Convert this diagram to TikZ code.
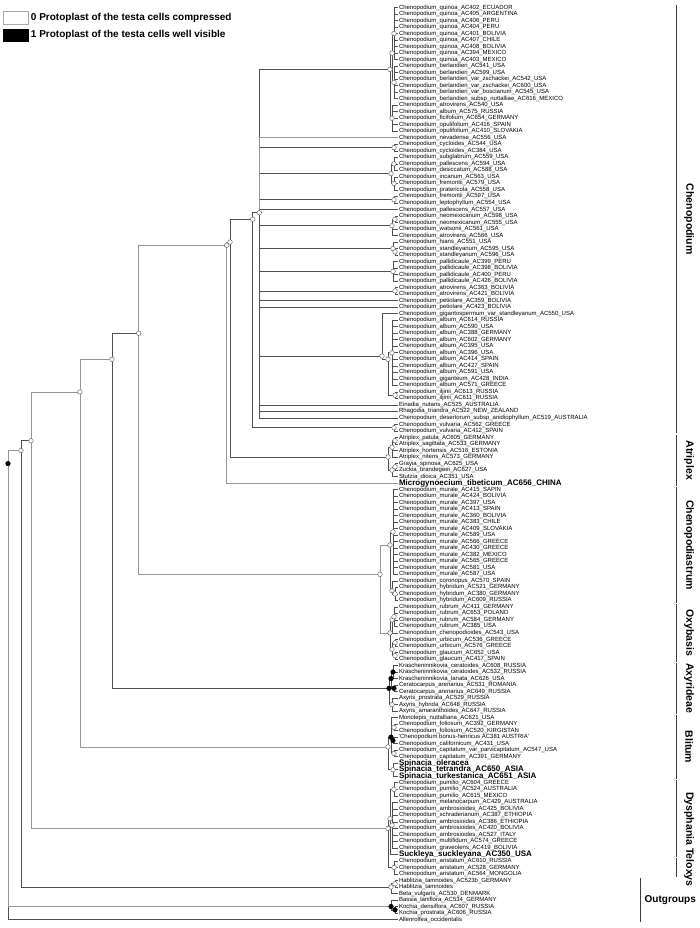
\documentclass[tikz,border=0pt]{standalone}
\usepackage{fontspec}
\setmainfont{Liberation Sans}
% y of a leaf range a..b (mean of the leaf rows)
\newcommand\ymid[2]{7.5+6.515*((#1)+(#2)-2)/2}
\catcode`\_=12
\tikzset{
  br/.style={draw={rgb,255:red,80;green,80;blue,80},line width=0.6},
  brg/.style={draw={rgb,255:red,150;green,150;blue,150},line width=0.6},
  nd/.style={circle,draw={rgb,255:red,110;green,110;blue,110},fill=white,inner sep=0pt,minimum size=4.6,line width=0.5},
  ndb/.style={nd,fill=black,draw=black},
  leaf/.style={anchor=west,inner sep=0.8,font=\fontsize{6}{6}\selectfont},
  big/.style={leaf,font=\fontsize{8}{8}\selectfont\bfseries},
  clade/.style={rotate=-90,font=\fontsize{10.5}{10.5}\selectfont\bfseries},
  brk/.style={draw={rgb,255:red,60;green,60;blue,60},line width=0.6},
  legtxt/.style={anchor=west,inner sep=0.75,font=\fontsize{10}{10}\selectfont\bfseries},
}
\begin{document}
\begin{tikzpicture}[x=1pt,y=1pt,yscale=-1]
\useasboundingbox (0,0) rectangle (699,928);

% Legend
\draw [draw={rgb,255:red,170;green,170;blue,170},fill=white] (3,11) rectangle (28,24);
\draw [fill=black] (3,29) rectangle (28,41);
\node (leg0) [legtxt] at (30,17.5) {0 Protoplast of the testa cells compressed};
\node (leg1) [legtxt] at (30,35) {1 Protoplast of the testa cells well visible};

% Leaves
\foreach \s/\t [count=\i] in {
leaf/Chenopodium_quinoa_AC402_ECUADOR, leaf/Chenopodium_quinoa_AC405_ARGENTINA, leaf/Chenopodium_quinoa_AC406_PERU,
leaf/Chenopodium_quinoa_AC404_PERU, leaf/Chenopodium_quinoa_AC401_BOLIVIA, leaf/Chenopodium_quinoa_AC407_CHILE,
leaf/Chenopodium_quinoa_AC408_BOLIVIA, leaf/Chenopodium_quinoa_AC394_MEXICO, leaf/Chenopodium_quinoa_AC403_MEXICO,
leaf/Chenopodium_berlandieri_AC541_USA, leaf/Chenopodium_berlandieri_AC599_USA,
leaf/Chenopodium_berlandieri_var_zschackei_AC542_USA, leaf/Chenopodium_berlandieri_var_zschackei_AC600_USA,
leaf/Chenopodium_berlandieri_var_boscianum_AC545_USA, leaf/Chenopodium_berlandieri_subsp_nuttalliae_AC616_MEXICO,
leaf/Chenopodium_atrovirens_AC540_USA, leaf/Chenopodium_album_AC575_RUSSIA, leaf/Chenopodium_ficifolium_AC654_GERMANY,
leaf/Chenopodium_opulifolium_AC416_SPAIN, leaf/Chenopodium_opulifolium_AC410_SLOVAKIA, leaf/Chenopodium_nevadense_AC556_USA,
leaf/Chenopodium_cycloides_AC544_USA, leaf/Chenopodium_cycloides_AC384_USA, leaf/Chenopodium_subglabrum_AC559_USA,
leaf/Chenopodium_pallescens_AC594_USA, leaf/Chenopodium_desiccatum_AC588_USA, leaf/Chenopodium_incanum_AC563_USA,
leaf/Chenopodium_fremontii_AC579_USA, leaf/Chenopodium_pratericola_AC558_USA, leaf/Chenopodium_fremontii_AC597_USA,
leaf/Chenopodium_leptophyllum_AC554_USA, leaf/Chenopodium_pallescens_AC557_USA, leaf/Chenopodium_neomexicanum_AC598_USA,
leaf/Chenopodium_neomexicanum_AC555_USA, leaf/Chenopodium_watsonii_AC561_USA, leaf/Chenopodium_atrovirens_AC566_USA,
leaf/Chenopodium_hians_AC551_USA, leaf/Chenopodium_standleyanum_AC595_USA, leaf/Chenopodium_standleyanum_AC596_USA,
leaf/Chenopodium_pallidicaule_AC399_PERU, leaf/Chenopodium_pallidicaule_AC398_BOLIVIA, leaf/Chenopodium_pallidicaule_AC400_PERU,
leaf/Chenopodium_pallidicaule_AC426_BOLIVIA, leaf/Chenopodium_atrovirens_AC363_BOLIVIA, leaf/Chenopodium_atrovirens_AC421_BOLIVIA,
leaf/Chenopodium_petiolare_AC359_BOLIVIA, leaf/Chenopodium_petiolare_AC423_BOLIVIA,
leaf/Chenopodium_gigantospermum_var_standleyanum_AC550_USA, leaf/Chenopodium_album_AC614_RUSSIA,
leaf/Chenopodium_album_AC590_USA, leaf/Chenopodium_album_AC388_GERMANY, leaf/Chenopodium_album_AC602_GERMANY,
leaf/Chenopodium_album_AC395_USA, leaf/Chenopodium_album_AC396_USA, leaf/Chenopodium_album_AC414_SPAIN,
leaf/Chenopodium_album_AC427_SPAIN, leaf/Chenopodium_album_AC591_USA, leaf/Chenopodium_giganteum_AC428_INDIA,
leaf/Chenopodium_album_AC571_GREECE, leaf/Chenopodium_iljinii_AC613_RUSSIA, leaf/Chenopodium_iljinii_AC611_RUSSIA,
leaf/Einadia_nutans_AC525_AUSTRALIA, leaf/Rhagodia_triandra_AC522_NEW_ZEALAND,
leaf/Chenopodium_desertorum_subsp_anidiophyllum_AC519_AUSTRALIA, leaf/Chenopodium_vulvaria_AC562_GREECE,
leaf/Chenopodium_vulvaria_AC412_SPAIN, leaf/Atriplex_patula_AC605_GERMANY, leaf/Atriplex_sagittata_AC533_GERMANY,
leaf/Atriplex_hortensis_AC516_ESTONIA, leaf/Atriplex_nitens_AC573_GERMANY, leaf/Grayia_spinosa_AC625_USA,
leaf/Zuckia_brandegeei_AC627_USA, leaf/Stutzia_dioica_AC351_USA, big/Microgynoecium_tibeticum_AC656_CHINA,
leaf/Chenopodium_murale_AC415_SAPIN, leaf/Chenopodium_murale_AC424_BOLIVIA, leaf/Chenopodium_murale_AC397_USA,
leaf/Chenopodium_murale_AC413_SPAIN, leaf/Chenopodium_murale_AC360_BOLIVIA, leaf/Chenopodium_murale_AC383_CHILE,
leaf/Chenopodium_murale_AC409_SLOVAKIA, leaf/Chenopodium_murale_AC589_USA, leaf/Chenopodium_murale_AC566_GREECE,
leaf/Chenopodium_murale_AC430_GREECE, leaf/Chenopodium_murale_AC382_MEXICO, leaf/Chenopodium_murale_AC565_GREECE,
leaf/Chenopodium_murale_AC581_USA, leaf/Chenopodium_murale_AC587_USA, leaf/Chenopodium_coronopus_AC570_SPAIN,
leaf/Chenopodium_hybridum_AC521_GERMANY, leaf/Chenopodium_hybridum_AC380_GERMANY, leaf/Chenopodium_hybridum_AC609_RUSSIA,
leaf/Chenopodium_rubrum_AC411_GERMANY, leaf/Chenopodium_rubrum_AC653_POLAND, leaf/Chenopodium_rubrum_AC584_GERMANY,
leaf/Chenopodium_rubrum_AC385_USA, leaf/Chenopodium_chenopodioides_AC543_USA, leaf/Chenopodium_urbicum_AC536_GREECE,
leaf/Chenopodium_urbicum_AC576_GREECE, leaf/Chenopodium_glaucum_AC652_USA, leaf/Chenopodium_glaucum_AC417_SPAIN,
leaf/Krascheninnikovia_ceratoides_AC608_RUSSIA, leaf/Krascheninnikovia_ceratoides_AC532_RUSSIA,
leaf/Krascheninnikovia_lanata_AC626_USA, leaf/Ceratocarpus_arenarius_AC531_ROMANIA, leaf/Ceratocarpus_arenarius_AC649_RUSSIA,
leaf/Axyris_prostrata_AC529_RUSSIA, leaf/Axyris_hybrida_AC648_RUSSIA, leaf/Axyris_amaranthoides_AC647_RUSSIA,
leaf/Monolepis_nuttalliana_AC621_USA, leaf/Chenopodium_foliosum_AC392_GERMANY, leaf/Chenopodium_foliosum_AC520_KIRGISTAN,
leaf/{\textquotesingle Chenopodium bonus-henricus AC381 AUSTRIA\textquotesingle}, leaf/Chenopodium_californicum_AC431_USA,
leaf/Chenopodium_capitatum_var_parvicapitatum_AC547_USA, leaf/Chenopodium_capitatum_AC391_GERMANY,
big/Spinacia_oleracea, big/Spinacia_tetrandra_AC650_ASIA, big/Spinacia_turkestanica_AC651_ASIA,
leaf/Chenopodium_pumilio_AC604_GREECE, leaf/Chenopodium_pumilio_AC524_AUSTRALIA, leaf/Chenopodium_pumilio_AC615_MEXICO,
leaf/Chenopodium_melanocarpum_AC429_AUSTRALIA, leaf/Chenopodium_ambrosioides_AC425_BOLIVIA,
leaf/Chenopodium_schraderianum_AC387_ETHIOPIA, leaf/Chenopodium_ambrosioides_AC386_ETHIOPIA,
leaf/Chenopodium_ambrosioides_AC420_BOLIVIA, leaf/Chenopodium_ambrosioides_AC527_ITALY,
leaf/Chenopodium_multifidum_AC574_GREECE, leaf/Chenopodium_graveolens_AC419_BOLIVIA, big/Suckleya_suckleyana_AC350_USA,
leaf/Chenopodium_aristatum_AC610_RUSSIA, leaf/Chenopodium_aristatum_AC528_GERMANY, leaf/Chenopodium_aristatum_AC564_MONGOLIA,
leaf/Hablitzia_tamnoides_AC523b_GERMANY, leaf/Hablitzia_tamnoides, leaf/Beta_vulgaris_AC530_DENMARK,
leaf/Bassia_laniflora_AC534_GERMANY, leaf/Kochia_densiflora_AC607_RUSSIA, leaf/Kochia_prostrata_AC606_RUSSIA,
leaf/Allenrolfea_occidentalis}
  \node (l\i) [\s] at (398,{7.5+6.515*(\i-1)}) {\t};

% Backbone nodes
\coordinate (root) at (8,{\ymid{1}{141}});
\coordinate (n21) at (21,{\ymid{1}{137}});
\coordinate (n31) at (31,{\ymid{1}{134}});
\coordinate (n80) at (80,{\ymid{1}{119}});
\coordinate (n112) at (112,{\ymid{1}{109}});
\coordinate (n139) at (138.7,{\ymid{1}{101}});
\coordinate (n227) at (226.7,{\ymid{1}{74}});
\coordinate (n230) at (230,{\ymid{1}{73}});
\coordinate (n253) at (252.7,{\ymid{1}{66}});
\coordinate (n259) at (259.3,{\ymid{1}{64}});
\coordinate (n380) at (380,{\ymid{75}{101}});

% Tip clades
\foreach \n/\x/\a/\b in {c1/390/1/20, c1a/392/1/15, cq/394/1/9, cb/394/10/15, c1b/392/16/20,
  cyc/394/22/23, c24/391/24/29, c24a/394/24/26, c24b/394/27/29, c30/394/30/31,
  c33/392/33/36, cneo/395/33/34, c37/393/37/39, cst/395/38/39, cpal/393/40/43, catr/395/44/45,
  c48/382/48/61, calb/388/49/61, calb1/392/49/59, cilj/395/60/61, cvul/394/65/66,
  catp/388/67/73, catx/392/67/70, catx1/395/67/68, cgzs/392/71/73, cgz/395/71/72,
  cchd/390/75/92, cmur/393/75/88, chyb0/392/89/92, chyb/395/90/92,
  coxy/390/93/101, crub0/392/93/97, crub/394/93/96, curb0/392/98/101, curb/395/98/99, cgla/395/100/101,
  caxy/389/102/109, ckc/391/102/106, ckra/393/102/104, ccer/394/105/106, caxs/392/107/109,
  cbli/388/110/119, cbl1/391/110/116, cfol/394/111/112, cbon/393/113/114, ccap/394/115/116, cspi/393/117/119,
  cdys/388/120/134, cdy1/390/120/131, cpum/394/120/122, camb/392/123/130, ctel/394/132/134,
  cbet/391/135/137, chab/395/135/136, ccam/391/138/140, ckoc/395/139/140}
  \coordinate (\n) at (\x,{\ymid{\a}{\b}});

% Branches
\foreach \p/\c in {n21/n31, n21/cbet, n112/n139, n112/caxy,
  n230/n253, n230/catp, n253/n259, n253/cvul, root/l141,
  n259/c1, n259/cyc, n259/c24, n259/c30, n259/l32, n259/c33, n259/c37, n259/cpal, n259/catr,
  n259/l46, n259/l47, n259/c48, n259/l62, n259/l63, n259/l64,
  c1/c1a, c1/c1b, c1a/cq, c1a/cb, c24/c24a, c24/c24b, c33/cneo, c33/l35, c33/l36, c37/l37, c37/cst,
  c48/l48, c48/calb, calb/calb1, calb/cilj, catp/catx, catp/cgzs, catx/catx1, catx/l69, catx/l70,
  cgzs/cgz, cgzs/l73, cchd/cmur, cchd/chyb0, chyb0/l89, chyb0/chyb, coxy/crub0, coxy/curb0,
  crub0/crub, crub0/l97, curb0/curb, curb0/cgla, caxy/ckc, caxy/caxs, ckc/ckra, ckc/ccer,
  cbli/cbl1, cbli/cspi, cbl1/l110, cbl1/cfol, cbl1/cbon, cbl1/ccap, cdys/cdy1, cdys/ctel,
  cdy1/cpum, cdy1/camb, cdy1/l131, cbet/chab, cbet/l137, ccam/l138, ccam/ckoc}
  \draw [br] (\p) |- (\c);
\foreach \p/\c in {root/n21, root/ccam, n31/n80, n31/cdys, n80/n112, n80/cbli, n139/n227, n139/n380,
  n380/cchd, n380/coxy, n227/n230, n227/l74, n259/l21}
  \draw [brg] (\p) |- (\c);
\foreach \p/\a/\b in {cq/1/9, cb/10/15, c1b/16/20, cyc/22/23, c24a/24/26, c24b/27/29, c30/30/31,
  cneo/33/34, cst/38/39, cpal/40/43, catr/44/45, calb1/49/59, cilj/60/61, cvul/65/66,
  catx1/67/68, cgz/71/72, cmur/75/88, chyb/90/92, crub/93/96, curb/98/99, cgla/100/101,
  ckra/102/104, ccer/105/106, caxs/107/109, cfol/111/112, cbon/113/114, ccap/115/116, cspi/117/119,
  cpum/120/122, camb/123/130, ctel/132/134, chab/135/136, ckoc/139/140}
  \foreach \i in {\a,...,\b} \draw [br] (\p) |- (l\i);

% Node states
\foreach \n in {n21, n31, n80, n112, n139, n227, n230, n253, n259, n380, c1, c1a, cq, cb, c1b,
  cyc, c24, c24a, c24b, c30, c33, cneo, c37, cst, cpal, catr, c48, calb, calb1, cilj, cvul,
  catp, catx, catx1, cgzs, cgz, cchd, cmur, chyb0, chyb, coxy, crub0, crub, curb0, curb, cgla,
  caxs, cbli, cspi, cfol, ccap, cdys, cdy1, cpum, camb, ctel, cbet, chab}
  \node [nd] at (\n) {};
\foreach \n in {root, caxy, ckc, ckra, ccer, cbl1, cbon, ccam, ckoc}
  \node [ndb] at (\n) {};

% Clade brackets
\foreach \a/\b/\t in {1/66/Chenopodium, 67/74/Atriplex, 75/92/Chenopodiastrum, 93/101/Oxybasis,
  102/109/Axyrideae, 110/119/Blitum, 120/131/Dysphania, 132/134/Teloxys}{
  \draw [brk] (676,{\ymid{\a}{\a}-2.5}) -- (676,{\ymid{\b}{\b}+2.5});
  \node (k\a) [clade] at (689,{\ymid{\a}{\b}}) {\t};
}
\draw [brk] (640,{\ymid{135}{135}-2.5}) -- (640,{\ymid{141}{141}+2.5});
\node (kout) [anchor=west,inner sep=0.5,font=\fontsize{10}{10}\selectfont\bfseries] at (644,{\ymid{135}{141}}) {Outgroups};

\end{tikzpicture}
\end{document}
